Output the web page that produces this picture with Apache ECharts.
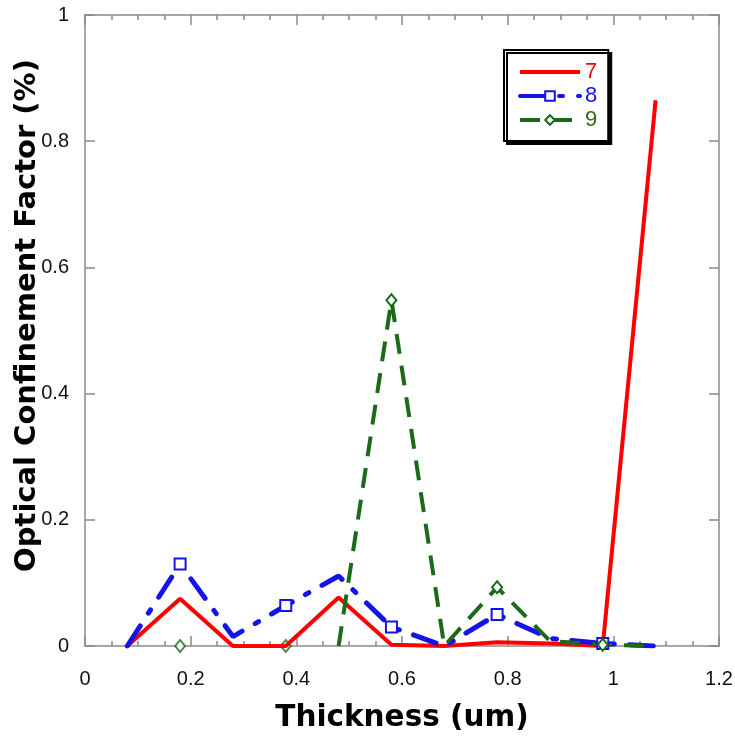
<!DOCTYPE html>
<html>
<head>
<meta charset="utf-8">
<script src="https://cdn.jsdelivr.net/npm/echarts@6/dist/echarts.min.js"></script>
<style>
    html, body {margin: 0; padding: 0; background: #fff;}
    #box {width: 735px; height: 736px;}
</style>
</head>
<body>
<div id="box"></div>
<script>
//厚度 (um)
var thickness = [0.08, 0.18, 0.28, 0.38, 0.48, 0.58, 0.68, 0.78, 0.88, 0.98, 1.08];
//各曲线数值
var s7 = [0, 0.075, 0, 0, 0.077, 0.002, 0, 0.006, 0.004, 0, 0.865];
var s8 = [0, 0.13, 0.015, 0.064, 0.111, 0.03, 0, 0.05, 0.012, 0.004, 0];
var s9 = [0, 0, 0, 0, 0, 0.548, 0, 0.093, 0.008, 0.002, 0];
var s9LineFrom = 4; //曲线9的连线从 0.48 开始
var yTicks = [0, 0.2, 0.4, 0.6, 0.8, 1];
var xTicks = [0, 0.2, 0.4, 0.6, 0.8, 1, 1.2];

var red = '#ff0000', blue = '#1414e6', green = '#1a6a1a';
var font = "'Liberation Sans', Arial, sans-serif";

//隔一个点画一个标记
function lineData(vals, from) {
    return thickness.map(function (x, i) {
        var item = {value: [x, i < from ? '-' : vals[i]]};
        if (i % 2 === 0) item.symbol = 'none';
        return item;
    });
}
function markOnly(vals, to) {
    var out = [];
    thickness.forEach(function (x, i) {
        if (i < to && i % 2 === 1) out.push([x, vals[i]]);
    });
    return out;
}

var axisColor = '#8a8a8a';
function xAx(pos, showLabel, name) {
    return {
        type: 'value', position: pos, min: xTicks[0], max: xTicks[xTicks.length - 1], interval: 0.2,
        name: name, nameLocation: 'middle', nameGap: 57,
        nameTextStyle: {fontFamily: 'DejaVu Sans', fontWeight: 'bold', fontSize: 29.5, color: '#000'},
        axisLine: {show: true, onZero: false, lineStyle: {color: axisColor, width: 1.5}},
        axisTick: {show: true, inside: true, length: 10, lineStyle: {color: axisColor, width: 1.5}},
        minorTick: {show: true, splitNumber: 4, length: 5, lineStyle: {color: axisColor, width: 1.5}},
        axisLabel: {show: showLabel, margin: 23, fontFamily: font, fontSize: 20, color: '#111'},
        splitLine: {show: false}
    };
}
function yAx(pos, showLabel, name) {
    return {
        type: 'value', position: pos, min: yTicks[0], max: yTicks[yTicks.length - 1], interval: 0.2,
        name: name, nameLocation: 'middle', nameGap: 43, nameMoveOverlap: false,
        nameTextStyle: {fontFamily: 'DejaVu Sans', fontWeight: 'bold', fontSize: 29, color: '#000', padding: [0, 0, 0, 30]},
        axisLine: {show: true, onZero: false, lineStyle: {color: axisColor, width: 1.5}},
        axisTick: {show: true, inside: true, length: 10, lineStyle: {color: axisColor, width: 1.5}},
        axisLabel: {show: showLabel, margin: 16, fontFamily: font, fontSize: 20, color: '#111'},
        splitLine: {show: false}
    };
}

var chart = echarts.init(document.getElementById('box'));
var option = {
    animation: false,
    backgroundColor: '#fff',
    grid: {left: 85, right: 16, top: 15, bottom: 90, outerBoundsMode: 'none', containLabel: false},
    legend: {
        orient: 'vertical', left: 504, top: 50,
        padding: [11, 11, 10, 14], itemGap: 2, itemWidth: 60, itemHeight: 12,
        backgroundColor: '#fff', borderColor: '#000', borderWidth: 2,
        shadowColor: '#000', shadowBlur: 0, shadowOffsetX: 3, shadowOffsetY: 3,
        lineStyle: {width: 4},
        textStyle: {fontFamily: font, fontSize: 22},
        data: [
            {name: '7', textStyle: {color: red}, itemStyle: {opacity: 0}},
            {name: '8', textStyle: {color: blue}},
            {name: '9', textStyle: {color: '#2f6a1c'}}
        ]
    },
    xAxis: [xAx('bottom', true, 'Thickness (um)'), xAx('top', false, '')],
    yAxis: [yAx('left', true, 'Optical Confinement Factor (%)'), yAx('right', false, '')],
    series: [
        {
            name: '7', type: 'line', symbol: 'circle', symbolSize: 0, showSymbol: false,
            lineStyle: {color: red, width: 4}, itemStyle: {color: red},
            data: lineData(s7, 0)
        },
        {
            name: '8', type: 'line', symbol: 'emptyRect', symbolSize: 11,
            lineStyle: {color: blue, width: 5, type: [24, 15, 4, 15], cap: 'round'},
            itemStyle: {color: blue, borderWidth: 1},
            data: lineData(s8, 0)
        },
        {
            name: '9', type: 'line', symbol: 'emptyDiamond', symbolSize: [10, 12],
            lineStyle: {color: green, width: 4, type: [20, 12]},
            itemStyle: {color: green, borderWidth: 1},
            data: lineData(s9, s9LineFrom)
        },
        {
            name: '9', type: 'scatter', symbol: 'emptyDiamond', symbolSize: [10, 12],
            itemStyle: {color: green, borderWidth: 1},
            data: markOnly(s9, s9LineFrom)
        }
    ]
};
chart.setOption(option);
</script>
</body>
</html>
